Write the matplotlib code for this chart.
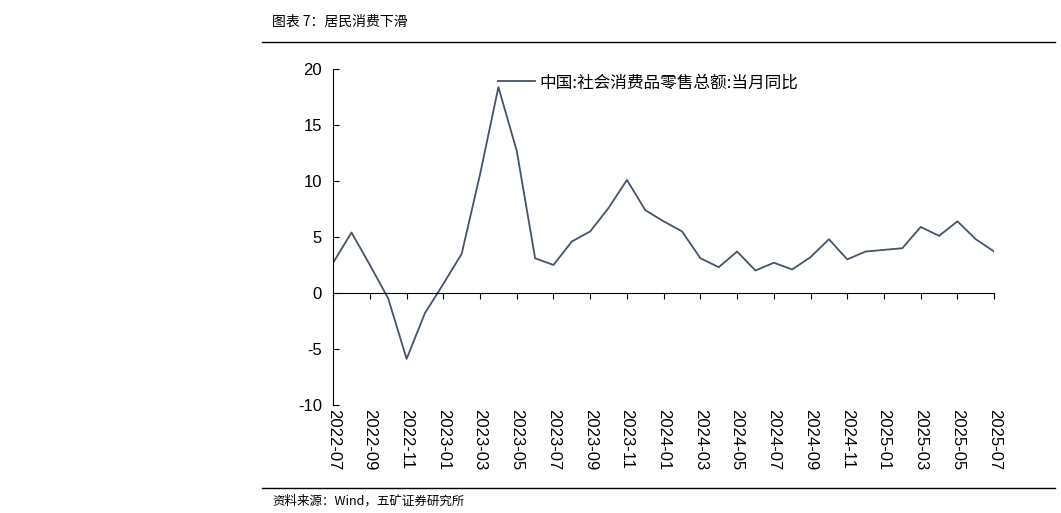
import matplotlib
matplotlib.use("Agg")
import matplotlib.pyplot as plt
import pandas as pd

plt.rcParams["font.family"] = ["Noto Sans CJK SC"]

months = pd.date_range("2022-07-01", "2025-07-01", freq="MS").strftime("%Y-%m").tolist()
values = [2.7, 5.4, 2.5, -0.5, -5.9, -1.8, 0.8, 3.5, 10.6, 18.4, 12.7, 3.1, 2.5, 4.6, 5.5, 7.6,
          10.1, 7.4, 6.4, 5.5, 3.1, 2.3, 3.7, 2.0, 2.7, 2.1, 3.2, 4.8, 3.0, 3.7, 3.85, 4.0,
          5.9, 5.1, 6.4, 4.8, 3.7]
series_name = "中国:社会消费品零售总额:当月同比"
yticks = [-10, -5, 0, 5, 10, 15, 20]

fig = plt.figure(figsize=(10.61, 5.13), dpi=100)
ax = fig.add_axes([0.314, 0.211, 0.623, 0.654])
x = list(range(len(months)))
ax.plot(x, values, color="#44546a", lw=1.3, label=series_name)
ax.set_xlim(0, len(months) - 1)
ax.set_ylim(-10, 20)
ax.set_yticks(yticks)
ax.set_yticklabels([str(v) for v in yticks], fontsize=12, fontfamily="Liberation Sans")
for s in ["top", "right"]:
    ax.spines[s].set_visible(False)
ax.spines["bottom"].set_position(("data", 0))
ax.tick_params(axis="y", direction="in", length=4, pad=8)
ax.tick_params(axis="x", direction="out", length=4, labelbottom=False)
ax.set_xticks(x[::2])
for i in x[::2]:
    ax.text(i, -10.4, months[i], rotation=-90, ha="center", va="top", fontsize=12,
            fontfamily="Liberation Sans")
ax.legend(loc="upper left", bbox_to_anchor=(0.227, 1.03), frameon=False, fontsize=12,
          handlelength=2.2, handletextpad=0.3)

fig.text(272/1061, 1-22/513, "图表 7：居民消费下滑", fontsize=10, va="center")
fig.add_artist(plt.Line2D([262/1061, 1055/1061], [1-42/513]*2, color="black", lw=1))
fig.add_artist(plt.Line2D([262/1061, 1055/1061], [1-488/513]*2, color="black", lw=1))
fig.text(272/1061, 1-501/513, "资料来源：Wind，五矿证券研究所", fontsize=9, va="center")
fig.savefig("out.png", dpi=100)
